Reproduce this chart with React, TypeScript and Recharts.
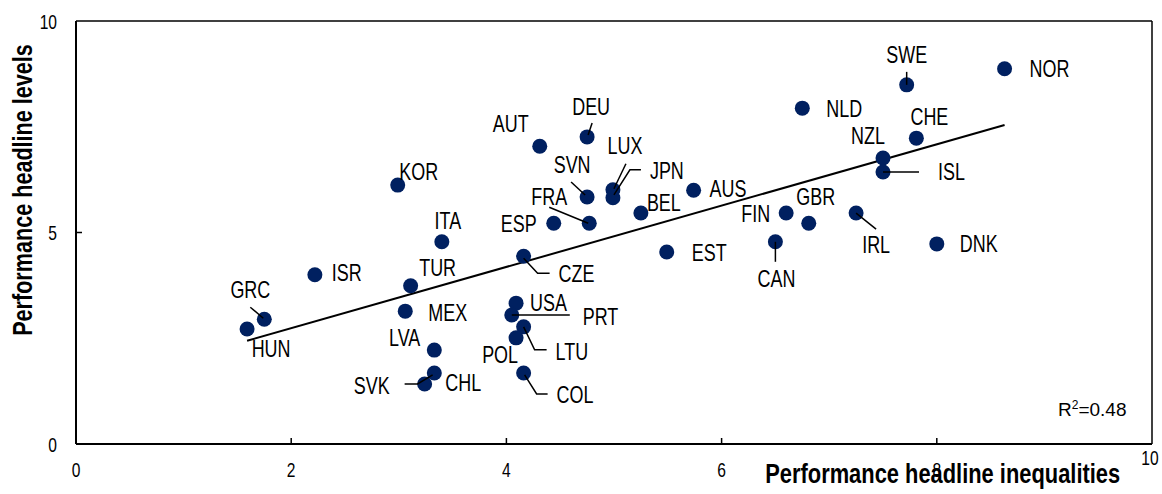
import React from 'react';
import {
  ScatterChart,
  Scatter,
  XAxis,
  YAxis,
  ReferenceLine,
} from 'recharts';

const countries = [
  'NOR', 'SWE', 'NLD', 'CHE', 'NZL', 'ISL', 'GBR', 'FIN', 'IRL', 'DNK',
  'CAN', 'EST', 'AUS', 'BEL', 'JPN', 'LUX', 'SVN', 'DEU', 'AUT', 'FRA',
  'ESP', 'KOR', 'ITA', 'CZE', 'ISR', 'TUR', 'GRC', 'HUN', 'MEX', 'LVA',
  'CHL', 'SVK', 'USA', 'PRT', 'LTU', 'POL', 'COL',
];
const inequalities = [
  8.63, 7.72, 6.75, 7.81, 7.5, 7.5, 6.81, 6.6, 7.25, 8.0,
  6.5, 5.49, 5.74, 5.25, 4.99, 4.99, 4.75, 4.75, 4.31, 4.77,
  4.44, 2.99, 3.4, 4.16, 2.22, 3.11, 1.75, 1.59, 3.06, 3.33,
  3.33, 3.24, 4.09, 4.05, 4.16, 4.09, 4.16,
];
const levels = [
  8.87, 8.49, 7.94, 7.23, 6.76, 6.43, 5.22, 5.46, 5.46, 4.73,
  4.78, 4.54, 6.0, 5.46, 5.82, 6.01, 5.84, 7.26, 7.04, 5.22,
  5.22, 6.12, 4.78, 4.44, 4.0, 3.74, 2.95, 2.72, 3.14, 2.22,
  1.68, 1.42, 3.33, 3.05, 2.77, 2.51, 1.68,
];
const xTicks = [0, 2, 4, 6, 8, 10];
const yTicks = [0, 5, 10];
// fitted line end points
const trendX = [1.59, 8.63];
const trendY = [2.44, 7.54];

const data = countries.map((name, i) => ({ name, x: inequalities[i], y: levels[i] }));

type Anchor = 'start' | 'middle' | 'end';
// label placement, pixel offsets from the dot
const labelPos: Record<string, { dx: number; dy: number; a: Anchor; leader?: number[][] }> = {
  NOR: { dx: 25, dy: 0, a: 'start' },
  SWE: { dx: 0, dy: -30, a: 'middle', leader: [[0, 0], [0, -13]] },
  NLD: { dx: 24, dy: 0, a: 'start' },
  CHE: { dx: 13, dy: -22, a: 'middle' },
  NZL: { dx: -15, dy: -22, a: 'middle' },
  ISL: { dx: 55, dy: 0, a: 'start', leader: [[0, 0], [36, 0]] },
  GBR: { dx: 7, dy: -27, a: 'middle' },
  FIN: { dx: -16, dy: 1, a: 'end' },
  IRL: { dx: 20, dy: 32, a: 'middle', leader: [[0, 0], [20, 16]] },
  DNK: { dx: 23, dy: 0, a: 'start' },
  CAN: { dx: 1, dy: 37, a: 'middle', leader: [[0, 0], [0, 20]] },
  EST: { dx: 25, dy: 1, a: 'start' },
  AUS: { dx: 16, dy: -2, a: 'start' },
  BEL: { dx: 6, dy: -10, a: 'start' },
  JPN: { dx: 37, dy: -27, a: 'start', leader: [[1, -3], [17, -28], [28, -28]] },
  LUX: { dx: 12, dy: -44, a: 'middle', leader: [[1, -1], [13, -26]] },
  SVN: { dx: -15, dy: -32, a: 'middle', leader: [[-16, -15], [-2, -2]] },
  DEU: { dx: 4, dy: -30, a: 'middle', leader: [[5, -14], [1, -2]] },
  AUT: { dx: -29, dy: -23, a: 'middle' },
  FRA: { dx: -40, dy: -27, a: 'middle', leader: [[-40, -16], [-1, 0]] },
  ESP: { dx: -17, dy: 0, a: 'end' },
  KOR: { dx: 21, dy: -13, a: 'middle' },
  ITA: { dx: 6, dy: -21, a: 'middle' },
  CZE: { dx: 35, dy: 17, a: 'start', leader: [[0, 2], [14, 17], [26, 17]] },
  ISR: { dx: 17, dy: -2, a: 'start' },
  TUR: { dx: 27, dy: -18, a: 'middle' },
  GRC: { dx: -14, dy: -30, a: 'middle', leader: [[-14, -12], [-1, -1]] },
  HUN: { dx: 24, dy: 20, a: 'middle' },
  MEX: { dx: 23, dy: 1, a: 'start' },
  LVA: { dx: -14, dy: -12, a: 'end' },
  CHL: { dx: 11, dy: 10, a: 'start' },
  SVK: { dx: -35, dy: 2, a: 'end', leader: [[-20, 0], [-7, 0], [8, -9]] },
  USA: { dx: 14, dy: -1, a: 'start' },
  PRT: { dx: 71, dy: 2, a: 'start', leader: [[0, 0], [58, 0]] },
  LTU: { dx: 32, dy: 25, a: 'start', leader: [[0, 0], [11, 23], [23, 23]] },
  POL: { dx: -16, dy: 17, a: 'middle' },
  COL: { dx: 33, dy: 22, a: 'start', leader: [[1, 2], [13, 21], [24, 21]] },
};

const FONT = '"Liberation Sans", Arial, sans-serif';
const NAVY = '#002060';

// narrow look: regular sans squeezed horizontally
const NarrowText = ({ x, y, anchor, size, children, baseline }: any) => (
  <text
    transform={`translate(${x},${y}) scale(0.78,1)`}
    textAnchor={anchor}
    dominantBaseline={baseline}
    fontFamily={FONT}
    fontSize={size}
    fill="#000"
  >
    {children}
  </text>
);

const Dot = (props: any) => {
  const { cx, cy } = props;
  return <circle cx={cx} cy={cy} r={7.5} fill={NAVY} />;
};

const CountryLabel = (props: any) => {
  const { cx, cy, payload } = props;
  const p = labelPos[payload.name];
  if (!p) return <g />;
  return (
    <g>
      {p.leader && (
        <polyline
          points={p.leader.map(([a, b]) => `${cx + a},${cy + b}`).join(' ')}
          fill="none"
          stroke="#000"
          strokeWidth={1.5}
        />
      )}
      <NarrowText x={cx + p.dx} y={cy + p.dy} anchor={p.a} size={23} baseline="central">
        {payload.name}
      </NarrowText>
    </g>
  );
};

const XTick = (props: any) => {
  const { x, y, payload } = props;
  const v = payload.value;
  return (
    <g>
      {v > 0 && v < 10 && <line x1={x} y1={y} x2={x} y2={y - 6} stroke="#000" strokeWidth={1.5} />}
      <NarrowText x={v === 10 ? x - 2 : x} y={v === 10 ? y + 21 : y + 33} anchor="middle" size={20}>
        {v}
      </NarrowText>
    </g>
  );
};

const YTick = (props: any) => {
  const { x, y, payload } = props;
  const v = payload.value;
  return (
    <g>
      {v > 0 && v < 10 && <line x1={x} y1={y} x2={x + 6} y2={y} stroke="#000" strokeWidth={1.5} />}
      <NarrowText x={x - 19} y={y + 1} anchor="end" size={20} baseline="central">
        {v}
      </NarrowText>
    </g>
  );
};

export default function App() {
  return (
    <div style={{ position: 'absolute', left: 0, top: 0, width: 1162, height: 494, background: '#fff' }}>
      <ScatterChart width={1162} height={494} margin={{ top: 21, right: 10, bottom: 20, left: 16 }}>
        <XAxis
          type="number"
          dataKey="x"
          domain={[0, 10]}
          ticks={xTicks}
          tickSize={0}
          tickMargin={0}
          tick={<XTick />}
          axisLine={{ stroke: '#000', strokeWidth: 2 }}
          height={30}
          allowDataOverflow
        />
        <YAxis
          type="number"
          dataKey="y"
          domain={[0, 10]}
          ticks={yTicks}
          tickSize={0}
          tickMargin={0}
          tick={<YTick />}
          axisLine={{ stroke: '#000', strokeWidth: 2 }}
          width={60}
          allowDataOverflow
        />
        <ReferenceLine y={10} stroke="#000" strokeWidth={1.5} />
        <ReferenceLine x={10} stroke="#000" strokeWidth={1.5} />
        <ReferenceLine
          segment={[
            { x: trendX[0], y: trendY[0] },
            { x: trendX[1], y: trendY[1] },
          ]}
          stroke="#000"
          strokeWidth={2}
        />
        <Scatter data={data} shape={<Dot />} isAnimationActive={false} />
        <Scatter data={data} shape={<CountryLabel />} isAnimationActive={false} />
      </ScatterChart>
      <div
        style={{
          position: 'absolute',
          left: 23,
          top: 190,
          transform: 'translate(-50%, -50%) rotate(-90deg) scaleX(0.8)',
          whiteSpace: 'nowrap',
          fontFamily: FONT,
          fontWeight: 'bold',
          fontSize: 27,
          lineHeight: '27px',
        }}
      >
        Performance headline levels
      </div>
      <div
        style={{
          position: 'absolute',
          right: 42,
          top: 461,
          transform: 'scaleX(0.81)',
          transformOrigin: 'right center',
          whiteSpace: 'nowrap',
          fontFamily: FONT,
          fontWeight: 'bold',
          fontSize: 27,
          lineHeight: '27px',
        }}
      >
        Performance headline inequalities
      </div>
      <div
        style={{
          position: 'absolute',
          left: 1058,
          top: 398,
          whiteSpace: 'nowrap',
          fontFamily: FONT,
          fontSize: 19,
        }}
      >
        R<sup style={{ fontSize: 12 }}>2</sup>=0.48
      </div>
    </div>
  );
}
